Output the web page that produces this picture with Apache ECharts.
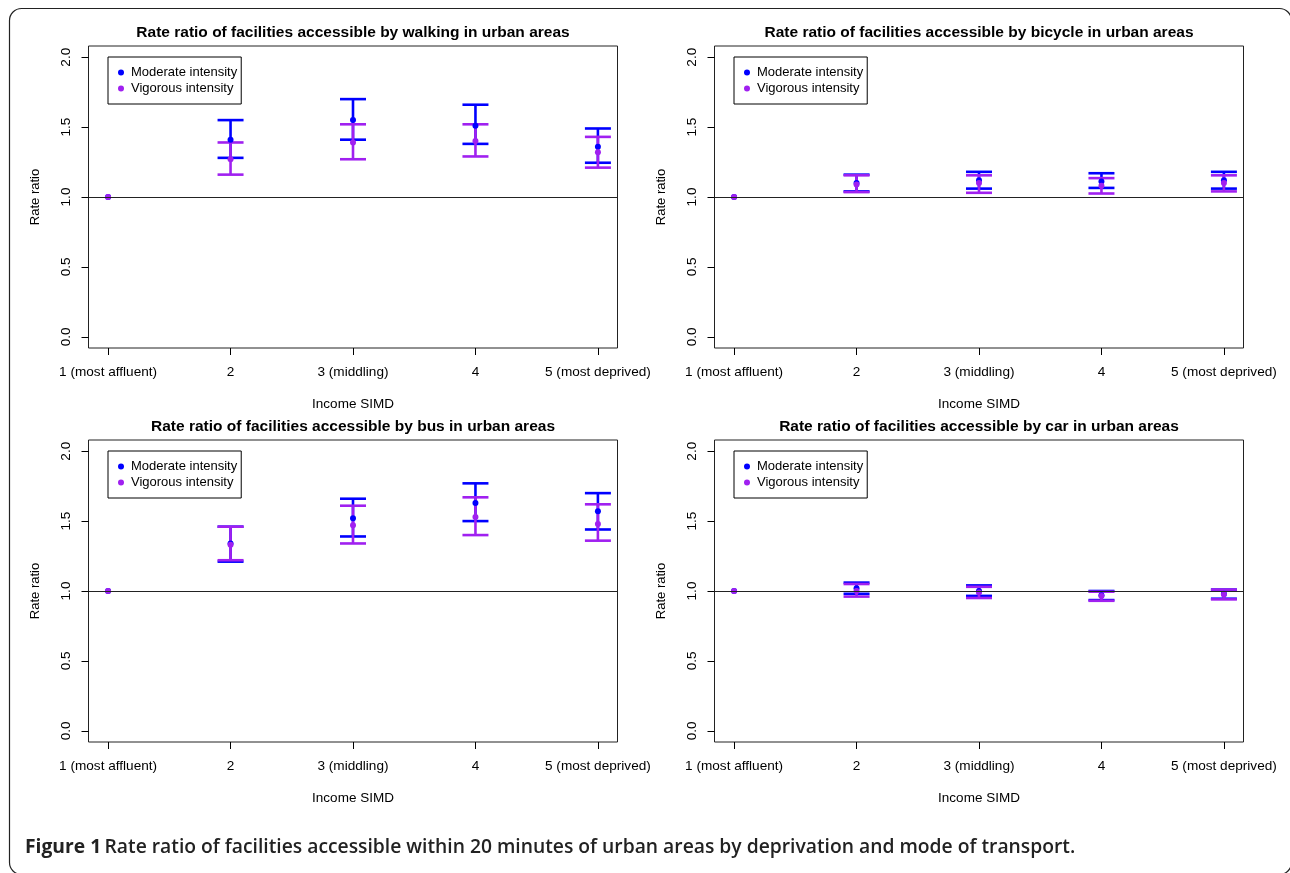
<!DOCTYPE html>
<html>
<head>
<meta charset="utf-8">
<script src="https://cdn.jsdelivr.net/npm/echarts@6/dist/echarts.min.js"></script>
<style>html,body{margin:0;padding:0;background:#fff;}#chart{width:1290px;height:873px;}</style>
</head>
<body>
<div id="chart"></div>
<script>
// ---- data ----
const categories = ['1 (most affluent)', '2', '3 (middling)', '4', '5 (most deprived)'];
const yTicks = [0, 0.5, 1, 1.5, 2];
const seriesNames = ['Moderate intensity', 'Vigorous intensity'];

const walkModerate     = [1.00, 1.41, 1.55, 1.51, 1.36];
const walkModerateLow  = [null, 1.28, 1.41, 1.38, 1.245];
const walkModerateHigh = [null, 1.55, 1.70, 1.66, 1.49];
const walkVigorous     = [1.00, 1.27, 1.39, 1.40, 1.32];
const walkVigorousLow  = [null, 1.16, 1.27, 1.29, 1.21];
const walkVigorousHigh = [null, 1.39, 1.52, 1.52, 1.43];

const bikeModerate     = [1.00, 1.10, 1.12, 1.11, 1.12];
const bikeModerateLow  = [null, 1.04, 1.06, 1.065, 1.06];
const bikeModerateHigh = [null, 1.16, 1.18, 1.17, 1.18];
const bikeVigorous     = [1.00, 1.09, 1.10, 1.08, 1.10];
const bikeVigorousLow  = [null, 1.035, 1.03, 1.025, 1.04];
const bikeVigorousHigh = [null, 1.155, 1.155, 1.135, 1.155];

const busModerate      = [1.00, 1.34, 1.52, 1.63, 1.57];
const busModerateLow   = [null, 1.21, 1.39, 1.50, 1.44];
const busModerateHigh  = [null, 1.46, 1.66, 1.77, 1.70];
const busVigorous      = [1.00, 1.33, 1.47, 1.53, 1.48];
const busVigorousLow   = [null, 1.22, 1.34, 1.40, 1.36];
const busVigorousHigh  = [null, 1.46, 1.61, 1.67, 1.62];

const carModerate      = [1.00, 1.02, 1.00, 0.97, 0.98];
const carModerateLow   = [null, 0.98, 0.965, 0.935, 0.945];
const carModerateHigh  = [null, 1.06, 1.04, 1.00, 1.01];
const carVigorous      = [1.00, 1.00, 0.99, 0.965, 0.975];
const carVigorousLow   = [null, 0.96, 0.95, 0.93, 0.94];
const carVigorousHigh  = [null, 1.05, 1.03, 0.995, 1.01];

const panels = [
  {title: 'Rate ratio of facilities accessible by walking in urban areas',
   mod: walkModerate, modLo: walkModerateLow, modHi: walkModerateHigh,
   vig: walkVigorous, vigLo: walkVigorousLow, vigHi: walkVigorousHigh},
  {title: 'Rate ratio of facilities accessible by bicycle in urban areas',
   mod: bikeModerate, modLo: bikeModerateLow, modHi: bikeModerateHigh,
   vig: bikeVigorous, vigLo: bikeVigorousLow, vigHi: bikeVigorousHigh},
  {title: 'Rate ratio of facilities accessible by bus in urban areas',
   mod: busModerate, modLo: busModerateLow, modHi: busModerateHigh,
   vig: busVigorous, vigLo: busVigorousLow, vigHi: busVigorousHigh},
  {title: 'Rate ratio of facilities accessible by car in urban areas',
   mod: carModerate, modLo: carModerateLow, modHi: carModerateHigh,
   vig: carVigorous, vigLo: carVigorousLow, vigHi: carVigorousHigh}
];

// ---- layout ----
const BLUE = '#0000FF', PURPLE = '#A020F0';
const FONT = '"Liberation Sans", Arial, sans-serif';
const lefts = [88.5, 714.5, 88.5, 714.5];
const tops = [46, 46, 440, 440];
const W = 529, H = 302;

function renderErr(params, api) {
  const x = api.value(0), lo = api.value(1), hi = api.value(2);
  if (lo == null || hi == null || isNaN(lo) || isNaN(hi)) return null;
  const a = api.coord([x, lo]), b = api.coord([x, hi]);
  const hw = 13;
  const style = {stroke: api.visual('color'), lineWidth: 2.6, fill: null};
  return {type: 'group', children: [
    {type: 'line', shape: {x1: a[0], y1: a[1], x2: b[0], y2: b[1]}, style: style},
    {type: 'line', shape: {x1: a[0] - hw, y1: a[1], x2: a[0] + hw, y2: a[1]}, style: style},
    {type: 'line', shape: {x1: b[0] - hw, y1: b[1], x2: b[0] + hw, y2: b[1]}, style: style}
  ]};
}

const grid = [], xAxis = [], yAxis = [], series = [], title = [], legend = [];
panels.forEach((p, i) => {
  grid.push({left: lefts[i], top: tops[i], width: W, height: H, show: true,
    borderColor: '#222', borderWidth: 1, backgroundColor: 'transparent', containLabel: false});
  xAxis.push({gridIndex: i, type: 'value', min: 0.84, max: 5.16, position: 'bottom',
    name: 'Income SIMD', nameLocation: 'middle', nameGap: 49,
    nameTextStyle: {fontSize: 13.5, color: '#000', fontFamily: FONT},
    splitLine: {show: false}, axisLine: {show: false, onZero: false},
    axisTick: {show: true, inside: false, customValues: [1, 2, 3, 4, 5], length: 7, lineStyle: {color: '#000', width: 1}},
    axisLabel: {customValues: [1, 2, 3, 4, 5], margin: 17, fontSize: 13.6, color: '#000', fontFamily: FONT,
      formatter: v => categories[Math.round(v) - 1]}});
  yAxis.push({gridIndex: i, type: 'value', min: -0.08, max: 2.08, position: 'left',
    name: 'Rate ratio', nameLocation: 'middle', nameGap: 47, nameRotate: 90,
    nameTextStyle: {fontSize: 13, color: '#000', fontFamily: FONT},
    splitLine: {show: false}, axisLine: {show: false, onZero: false},
    axisTick: {show: true, inside: false, customValues: yTicks, length: 7, lineStyle: {color: '#000', width: 1}},
    axisLabel: {customValues: yTicks, rotate: 90, margin: 15, fontSize: 13.6, color: '#000', fontFamily: FONT,
      formatter: v => v.toFixed(1)}});
  title.push({text: p.title, left: lefts[i] + W / 2, top: tops[i] - 21, textAlign: 'center', padding: 0,
    textStyle: {fontSize: 15.5, fontWeight: 'bold', color: '#000', fontFamily: FONT}});
  legend.push({left: lefts[i] + 19.5, top: tops[i] + 11, orient: 'vertical', itemWidth: 6, itemHeight: 6,
    itemGap: 1, padding: [8, 4, 8, 10], borderColor: '#000', borderWidth: 1, selectedMode: false,
    textStyle: {fontSize: 13, lineHeight: 15, color: '#000', fontFamily: FONT, padding: [0, 0, 0, 2]},
    data: [{name: seriesNames[0], icon: 'circle', itemStyle: {color: BLUE}},
           {name: seriesNames[1], icon: 'circle', itemStyle: {color: PURPLE}}]});
  const mkErr = (lo, hi) => lo.map((l, k) => [k + 1, l, hi[k]]).filter(d => d[1] != null);
  series.push({type: 'custom', name: 'Moderate CI', xAxisIndex: i, yAxisIndex: i, z: 2,
    itemStyle: {color: BLUE}, renderItem: renderErr, data: mkErr(p.modLo, p.modHi),
    markLine: {silent: true, symbol: ['none', 'none'], label: {show: false},
      lineStyle: {color: '#222', width: 1, type: 'solid'}, data: [{yAxis: 1}]}});
  series.push({type: 'custom', name: 'Vigorous CI', xAxisIndex: i, yAxisIndex: i, z: 2,
    itemStyle: {color: PURPLE}, renderItem: renderErr, data: mkErr(p.vigLo, p.vigHi)});
  series.push({type: 'scatter', name: seriesNames[0], xAxisIndex: i, yAxisIndex: i, z: 3,
    symbol: 'circle', symbolSize: 6, itemStyle: {color: BLUE, opacity: 1},
    data: p.mod.map((v, k) => [k + 1, v])});
  series.push({type: 'scatter', name: seriesNames[1], xAxisIndex: i, yAxisIndex: i, z: 4,
    symbol: 'circle', symbolSize: 6, itemStyle: {color: PURPLE, opacity: 1},
    data: p.vig.map((v, k) => [k + 1, v])});
});

const chart = echarts.init(document.getElementById('chart'), null, {renderer: 'canvas'});
chart.setOption({
  animation: false,
  backgroundColor: '#fff',
  title, legend, grid, xAxis, yAxis, series,
  graphic: [
    {type: 'rect', shape: {x: 9.5, y: 8.5, width: 1282, height: 866, r: 12},
     style: {fill: null, stroke: '#222', lineWidth: 1.2}, silent: true},
    {type: 'text', left: 25, top: 838, silent: true,
     style: {text: '{a|Figure 1} {b|Rate ratio of facilities accessible within 20 minutes of urban areas by deprivation and mode of transport.}',
       rich: {a: {fontFamily: '"Open Sans", sans-serif', fontSize: 19.3, fontWeight: 'bold', fill: '#222'},
              b: {fontFamily: '"Open Sans", sans-serif', fontSize: 19.3, fontWeight: 600, fill: '#222'}}}}
  ]
});
</script>
</body>
</html>
